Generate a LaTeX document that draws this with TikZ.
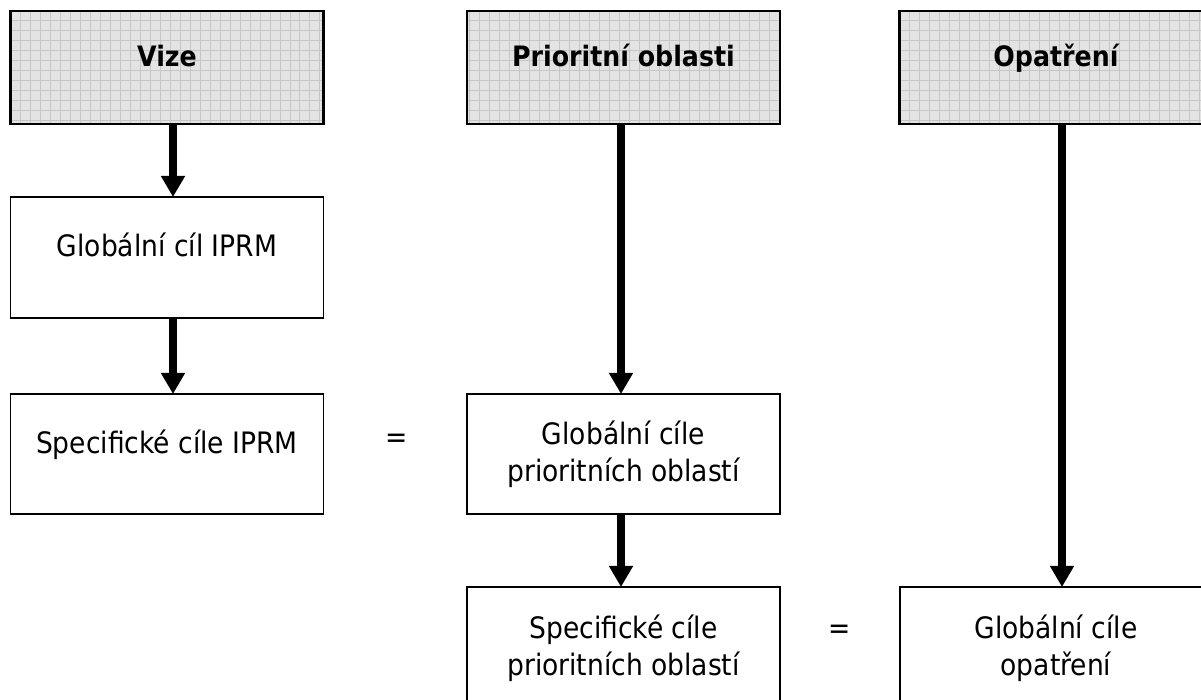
\documentclass[tikz,border=0pt]{standalone}
\usepackage{fontspec}
\setmainfont{DejaVu Sans Condensed}
\usetikzlibrary{arrows.meta,positioning,backgrounds}

\definecolor{hdrfill}{HTML}{E3E3E3}
\definecolor{hdrgrid}{HTML}{C6C6C6}
\newcommand{\boxfont}{\fontsize{16.8}{21}\selectfont}
\newcommand{\hdrfont}{\fontsize{16}{20}\selectfont\bfseries}

\tikzset{
  box/.style={draw=black, line width=1.1pt, fill=white, minimum width=6.26cm,
              align=center, inner sep=0pt, outer sep=0pt},
  oneline/.style={text height=0.37cm, text depth=0.41cm},
  hdr/.style={box, oneline, line width=1.6pt, fill=none, minimum height=2.26cm,
              font=\hdrfont},
  arr/.style={line width=4.5pt, -{Triangle[width=13pt,length=12pt]}},
}

\begin{document}
\begin{tikzpicture}[x=0.02cm, y=-0.02cm, font=\boxfont]
\clip (0,0) rectangle (1201,700);

% headers
\node[hdr] (vize) at (167,67.5) {Vize};
\node[hdr] (prior) at (623.5,67.5) {Prioritní oblasti};
\node[hdr] (opat) at (1056,67.5) {Opatření};
% grid behind the headers
\begin{scope}[on background layer]
\fill[white] (0,0) rectangle (1201,700);
\foreach \n in {vize,prior,opat}{
  \begin{scope}
    \clip (\n.south west) rectangle (\n.north east);
    \fill[hdrfill] (\n.south west) rectangle (\n.north east);
    \draw[hdrgrid, line width=0.5pt, step=0.2cm] (\n.south west) grid (\n.north east);
  \end{scope}
}
\end{scope}

% boxes
\node[box, oneline, minimum height=2.42cm] (globiprm) at (167,257.5) {Globální cíl IPRM};
\node[box, oneline, minimum height=2.4cm] (speciprm) at (167,454) {Specifické cíle IPRM};
\node[box, minimum height=2.4cm] (globpo) at (623.5,454) {Globální cíle\\prioritních oblastí};
\node[box, minimum height=2.46cm] (specpo) at (623.5,648.5) {Specifické cíle\\prioritních oblastí};
\node[box, minimum height=2.46cm] (globop) at (1056,648.5) {Globální cíle\\opatření};

\node (eq1) at (397,441) {=};
\node (eq2) at (840,632) {=};

% arrows
\draw[arr] ([xshift=0.12cm]vize.south) -- ([xshift=0.12cm]globiprm.north);
\draw[arr] ([xshift=0.12cm]globiprm.south) -- ([xshift=0.12cm]speciprm.north);
\draw[arr] ([xshift=-0.05cm]prior.south) -- ([xshift=-0.05cm]globpo.north);
\draw[arr] ([xshift=-0.05cm]globpo.south) -- ([xshift=-0.05cm]specpo.north);
\draw[arr] ([xshift=0.12cm]opat.south) -- ([xshift=0.12cm]globop.north);

\end{tikzpicture}
\end{document}
